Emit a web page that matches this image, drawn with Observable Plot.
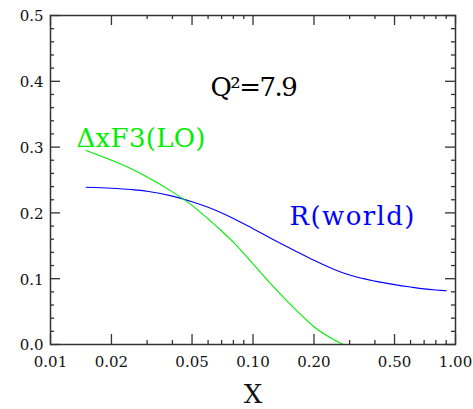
<!DOCTYPE html>
<html>
<head>
<meta charset="utf-8">
<script src="https://cdn.jsdelivr.net/npm/d3@7"></script>
<script src="https://cdn.jsdelivr.net/npm/@observablehq/plot@0.6"></script>
<style>
  body { margin: 0; background: #fff; }
</style>
</head>
<body>
<div id="chart"></div>
<script>
// R(world) curve
const worldX = [0.015, 0.02, 0.025, 0.03, 0.04, 0.05, 0.06, 0.08, 0.1, 0.125, 0.16, 0.2, 0.25, 0.3, 0.4, 0.5, 0.6, 0.7, 0.8, 0.9];
const worldR = [0.239, 0.2375, 0.2355, 0.233, 0.2255, 0.217, 0.2085, 0.1915, 0.176, 0.160, 0.143, 0.128, 0.1145, 0.1055, 0.0963, 0.091, 0.0873, 0.0845, 0.0828, 0.0816];

// ΔxF3 (LO) curve
const f3X = [0.015, 0.02, 0.025, 0.03, 0.04, 0.05, 0.06, 0.07, 0.08, 0.1, 0.125, 0.16, 0.2, 0.25, 0.279];
const f3Y = [0.295, 0.280, 0.267, 0.2545, 0.232, 0.2115, 0.191, 0.1725, 0.1555, 0.1225, 0.089, 0.055, 0.027, 0.0075, 0.0];

// Axis ticks
const xMajor = [0.01, 0.02, 0.05, 0.1, 0.2, 0.5, 1];
const xMinor = [0.03, 0.04, 0.06, 0.07, 0.08, 0.09, 0.3, 0.4, 0.6, 0.7, 0.8, 0.9];
const yMajor = [0, 0.1, 0.2, 0.3, 0.4, 0.5];
const yMinor = [0.02, 0.04, 0.06, 0.08, 0.12, 0.14, 0.16, 0.18, 0.22, 0.24, 0.26, 0.28, 0.32, 0.34, 0.36, 0.38, 0.42, 0.44, 0.46, 0.48];

// Annotation texts and anchor points
const noteText = ["Q²=7.9", "ΔxF3(LO)", "R(world)"];
const noteX = [0.0617, 0.01344, 0.1514];
const noteY = [0.391, 0.3135, 0.195];
const noteColor = ["#000", "#00ee00", "#0000ff"];

const W = 473, H = 409;
const mL = 50, mR = 18, mT = 15, mB = 65;
const innerW = W - mL - mR, innerH = H - mT - mB;
const major = 10, minor = 4;
const FONT = "'DejaVu Serif', 'Liberation Serif', serif";

const world = worldX.map((x, i) => ({x, y: worldR[i]}));
const f3 = f3X.map((x, i) => ({x, y: f3Y[i]}));
const notes = noteText.map((text, i) => ({text, x: noteX[i], y: noteY[i], color: noteColor[i]}));

const tickStyle = {stroke: "#333", strokeWidth: 1.3};

const chart = Plot.plot({
  width: W,
  height: H,
  marginLeft: mL,
  marginRight: mR,
  marginTop: mT,
  marginBottom: mB,
  style: {fontFamily: FONT, fontSize: "15px", color: "#111", background: "#fff"},
  x: {type: "log", domain: [0.01, 1]},
  y: {domain: [0, 0.5]},
  marks: [
    // inward ticks on all four sides
    Plot.tickX(xMajor, {x: d => d, insetTop: innerH - major, ...tickStyle}),
    Plot.tickX(xMinor, {x: d => d, insetTop: innerH - minor, ...tickStyle}),
    Plot.tickX(xMajor, {x: d => d, insetBottom: innerH - major, ...tickStyle}),
    Plot.tickX(xMinor, {x: d => d, insetBottom: innerH - minor, ...tickStyle}),
    Plot.tickY(yMajor, {y: d => d, insetRight: innerW - major, ...tickStyle}),
    Plot.tickY(yMinor, {y: d => d, insetRight: innerW - minor, ...tickStyle}),
    Plot.tickY(yMajor, {y: d => d, insetLeft: innerW - major, ...tickStyle}),
    Plot.tickY(yMinor, {y: d => d, insetLeft: innerW - minor, ...tickStyle}),
    Plot.axisX({ticks: xMajor, tickFormat: d3.format(".2f"), tickSize: 0, tickPadding: 12, label: null, fontSize: 15}),
    Plot.axisY({ticks: yMajor, tickFormat: d3.format(".1f"), tickSize: 0, tickPadding: 7, dy: 1, label: null, fontSize: 15}),
    Plot.text(["X"], {frameAnchor: "bottom", dy: 50, fontSize: 26, lineAnchor: "middle", fill: "#111"}),
    Plot.line(world, {x: "x", y: "y", stroke: "#0000ff", strokeWidth: 1.1, curve: "monotone-x"}),
    Plot.line(f3, {x: "x", y: "y", stroke: "#00ee00", strokeWidth: 1.1, curve: "monotone-x"}),
    Plot.text(notes, {x: "x", y: "y", text: "text", fill: "color", fontSize: 26, textAnchor: "start", lineAnchor: "middle"}),
    Plot.frame({stroke: "#333", strokeWidth: 1.5})
  ]
});

// per-label letter spacing
const spacing = {"Q²=7.9": "-1.5px", "R(world)": "1.4px", "ΔxF3(LO)": "0.3px"};
d3.select(chart).selectAll("text").each(function () {
  const s = spacing[this.textContent];
  if (s) this.setAttribute("letter-spacing", s);
});

document.getElementById("chart").appendChild(chart);
</script>
</body>
</html>
